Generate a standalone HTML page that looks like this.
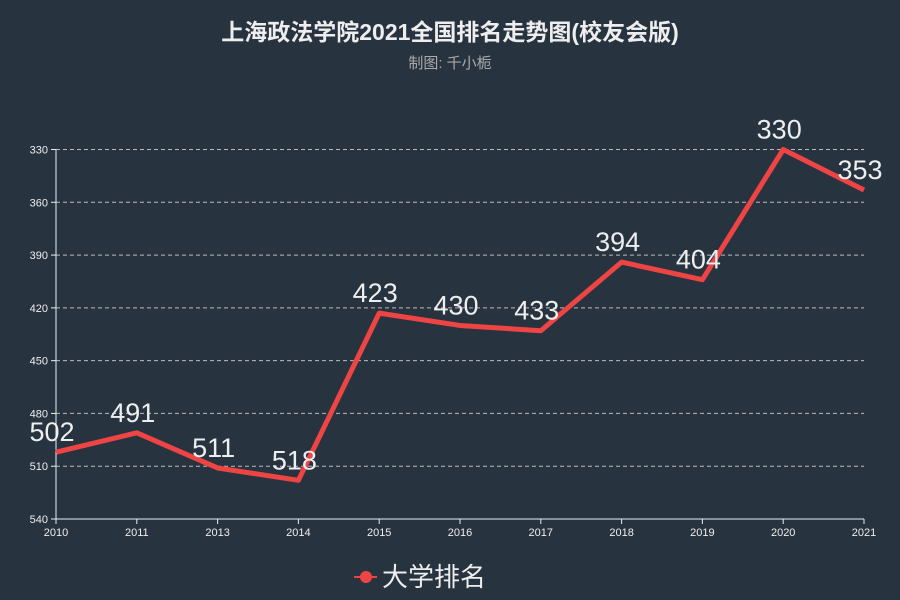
<!DOCTYPE html>
<html><head><meta charset="utf-8"><style>
body{margin:0;background:#283340;}
svg{display:block;font-family:"Liberation Sans","Noto Sans CJK SC",sans-serif;}
</style></head><body>
<svg width="900" height="600">
<rect width="900" height="600" fill="#283340"/>
<text x="450" y="40" text-anchor="middle" font-size="23" font-weight="bold" fill="#eeeeee">上海政法学院2021全国排名走势图(校友会版)</text>
<text x="450" y="68" text-anchor="middle" font-size="15" fill="#aaaaaa">制图: 千小栀</text>
<g id="grid"></g><g id="axes"></g><g id="series"></g>
<g>
<line x1="354" y1="577" x2="377" y2="577" stroke="#ef4444" stroke-width="2"/>
<circle cx="366" cy="577" r="6" fill="#ef4444"/>
<text x="382" y="586" font-size="26" fill="#eeeeee">大学排名</text>
</g>
</svg>
<script>
const categories=["2010","2011","2013","2014","2015","2016","2017","2018","2019","2020","2021"];
const ranks=[502,491,511,518,423,430,433,394,404,330,353];
const yTicks=[330,360,390,420,450,480,510,540];
const NS="http://www.w3.org/2000/svg";
const x0=56,x1=864,yTop=149.5,yBot=519,vMin=330,vMax=540;
const xs=i=>x0+i*(x1-x0)/(categories.length-1);
const ys=v=>yTop+(v-vMin)/(vMax-vMin)*(yBot-yTop);
function mk(tag,attrs,parent){const e=document.createElementNS(NS,tag);for(const k in attrs)e.setAttribute(k,attrs[k]);document.getElementById(parent).appendChild(e);return e;}
yTicks.forEach(t=>{
 if(t!==vMax){const g=mk('line',{x1:x0,x2:x1,y1:ys(t),y2:ys(t),stroke:'#bbbbbb','stroke-dasharray':'4,3','stroke-width':1},'grid');
 
 }
 const tk=mk('line',{x1:x0-5,x2:x0,y1:ys(t),y2:ys(t),stroke:'#eeeeee'},'axes');
 
 
 const l=mk('text',{x:x0-8,y:ys(t)+4,'text-anchor':'end','font-size':11,fill:'#eeeeee'},'axes');
 l.textContent=t;
 
 
});
const ya=mk('line',{x1:x0,x2:x0,y1:yTop,y2:yBot,stroke:'#eeeeee'},'axes');


const xa=mk('line',{x1:x0,x2:x1,y1:yBot,y2:yBot,stroke:'#eeeeee'},'axes');


categories.forEach((c,i)=>{
 const tk=mk('line',{x1:xs(i),x2:xs(i),y1:yBot,y2:yBot+5,stroke:'#eeeeee'},'axes');
 
 
 const l=mk('text',{x:xs(i),y:yBot+17,'text-anchor':'middle','font-size':11,fill:'#eeeeee'},'axes');
 l.textContent=c;
 
 
});
const pts=ranks.map((v,i)=>xs(i)+','+ys(v)).join(' ');
const pl=mk('polyline',{points:pts,fill:'none',stroke:'#ef4444','stroke-width':5,'stroke-linejoin':'round'},'series');


ranks.forEach((v,i)=>{
 const t=mk('text',{x:xs(i)-4,y:ys(v)-11,'text-anchor':'middle','font-size':27,fill:'#eeeeee'},'series');
 t.textContent=v;
 
 
});
</script>
</body></html>
